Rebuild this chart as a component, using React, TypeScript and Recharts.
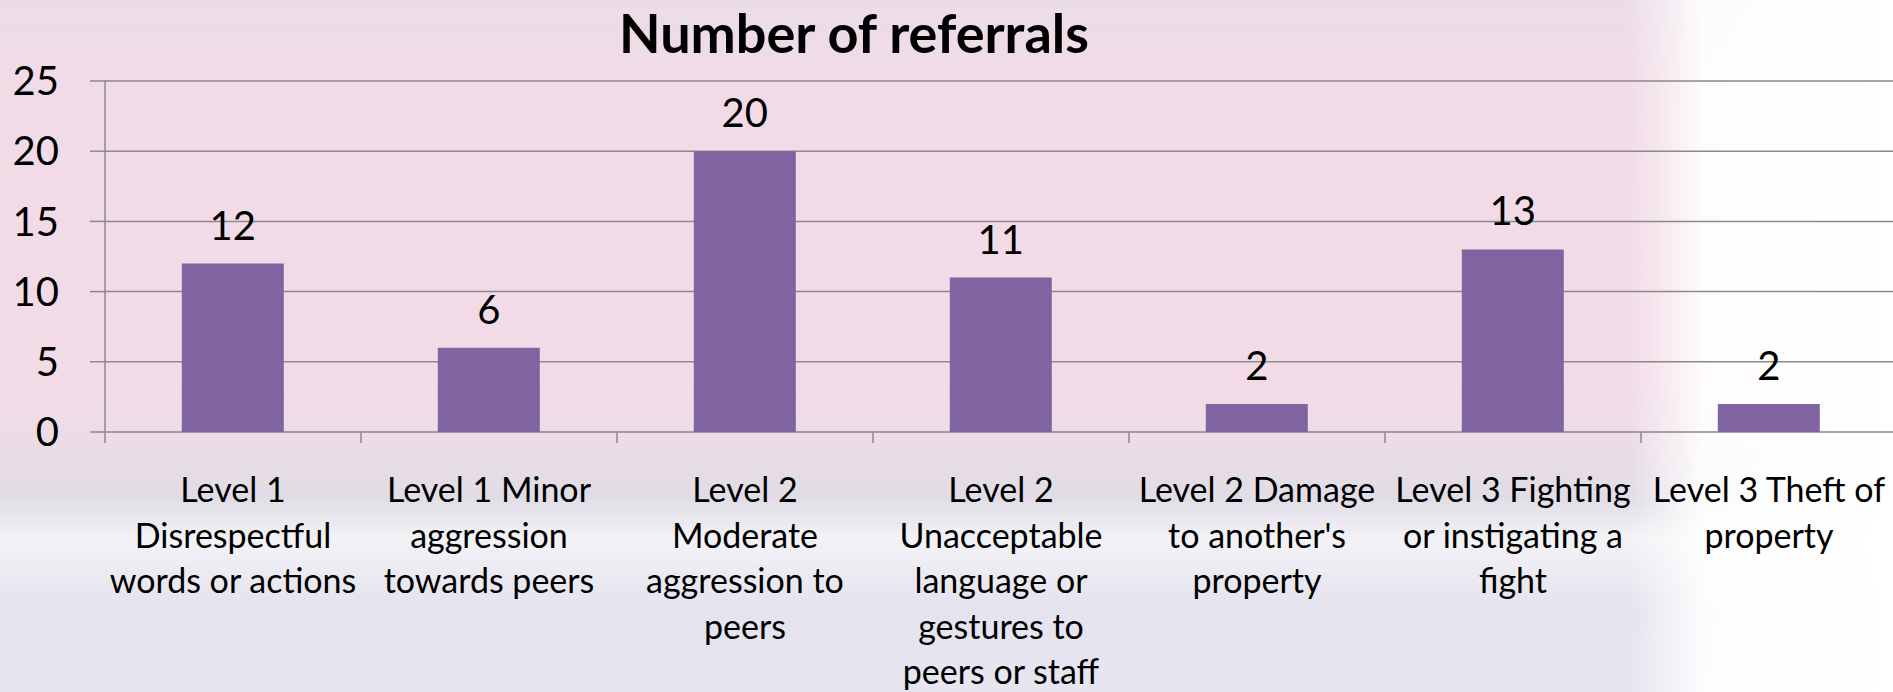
import React from "react";
import { BarChart, Bar, XAxis, YAxis, CartesianGrid, LabelList } from "recharts";

const categories: string[] = [
  "Level 1\nDisrespectful\nwords or actions",
  "Level 1 Minor\naggression\ntowards peers",
  "Level 2\nModerate\naggression to\npeers",
  "Level 2\nUnacceptable\nlanguage or\ngestures to\npeers or staff",
  "Level 2 Damage\nto another's\nproperty",
  "Level 3 Fighting\nor instigating a\nfight",
  "Level 3 Theft of\nproperty",
];
const referrals: number[] = [12, 6, 20, 11, 2, 13, 2];
const yTicks: number[] = [0, 5, 10, 15, 20, 25];
const title = "Number of referrals";

const data = categories.map((c, i) => ({ name: c, value: referrals[i] }));

const FONT = "Lato, 'Open Sans', sans-serif";
const GRID = "#8a8a8a";
const CHART_W = 1897;
const Y_AXIS_W = 105;
const BAND = (CHART_W - Y_AXIS_W) / categories.length;

function CategoryTick(props: any) {
  const { x, y, payload, index } = props;
  const lines = String(payload.value).split("\n");
  const isLast = index === categories.length - 1;
  return (
    <g>
      <line x1={x - BAND / 2} x2={x - BAND / 2} y1={y} y2={y + 11} stroke={GRID} strokeWidth={1.5} />
      {isLast && (
        <line x1={x + BAND / 2} x2={x + BAND / 2} y1={y} y2={y + 11} stroke={GRID} strokeWidth={1.5} />
      )}
      <text x={x} y={y} textAnchor="middle" fontFamily={FONT} fontSize={34} fill="#000">
        {lines.map((l, i) => (
          <tspan key={i} x={x} dy={i === 0 ? 70 : 45.5}>
            {l}
          </tspan>
        ))}
      </text>
    </g>
  );
}

export default function App() {
  return (
    <div
      style={{
        position: "absolute",
        left: 0,
        top: 0,
        width: 1893,
        height: 692,
        overflow: "hidden",
        background:
          "linear-gradient(to right, rgba(255,255,255,0) 0%, rgba(255,255,255,0) 86%, rgba(255,255,255,0.9) 90%, #ffffff 100%), linear-gradient(to bottom, #ebdde8 0%, #f1dbe6 12%, #f2dbe7 55%, #ecdce6 64%, #e0dde6 72%, #f3f2f6 78%, #e4e3ee 88%, #e6e5f0 100%)",
      }}
    >
      <div
        style={{
          position: "absolute",
          left: 554,
          top: 6,
          width: 600,
          textAlign: "center",
          fontFamily: FONT,
          fontWeight: 700,
          fontSize: 54,
          lineHeight: "54px",
          color: "#000",
          whiteSpace: "nowrap",
        }}
      >
        {title}
      </div>
      <BarChart
        width={CHART_W}
        height={692}
        data={data}
        margin={{ top: 81, right: 0, bottom: 0, left: 0 }}
        barCategoryGap="30%"
        style={{ position: "absolute", left: 0, top: 0 }}
      >
        <CartesianGrid vertical={false} stroke={GRID} strokeWidth={1.5} />
        <XAxis
          dataKey="name"
          interval={0}
          tickLine={false}
          axisLine={false}
          tickSize={0}
          tickMargin={0}
          height={260}
          tick={<CategoryTick />}
        />
        <YAxis
          domain={[0, 25]}
          ticks={yTicks}
          width={Y_AXIS_W}
          tickSize={15}
          tickMargin={31}
          axisLine={{ stroke: GRID, strokeWidth: 1.5 }}
          tickLine={{ stroke: GRID, strokeWidth: 1.5 }}
          tick={{ fontFamily: FONT, fontSize: 40, fill: "#000" }}
        />
        <Bar dataKey="value" fill="#8064A2" isAnimationActive={false}>
          <LabelList
            dataKey="value"
            position="top"
            offset={24}
            fontFamily={FONT}
            fontSize={40}
            fill="#000"
          />
        </Bar>
      </BarChart>
    </div>
  );
}
